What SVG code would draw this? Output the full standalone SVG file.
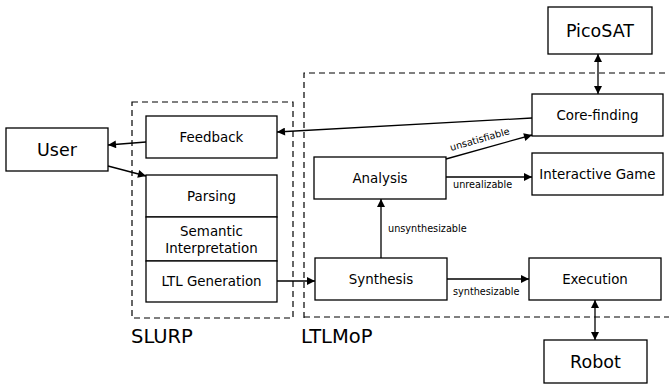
<svg xmlns="http://www.w3.org/2000/svg" width="669" height="385" viewBox="0 0 669 385">
<defs>
<marker id="ah" viewBox="0 0 10 10" refX="10" refY="5" markerWidth="10" markerHeight="8" markerUnits="userSpaceOnUse" orient="auto-start-reverse">
<path d="M0,0 L10,5 L0,10 z" fill="#000"/>
</marker>
<style>
.box{fill:#fff;stroke:#000;stroke-width:1.3}
.dash{fill:none;stroke:#000;stroke-width:1.2;stroke-dasharray:6,4}
.t{font-family:"DejaVu Sans",sans-serif;font-size:13.4px;text-anchor:middle;fill:#000}
.big{font-family:"DejaVu Sans",sans-serif;font-size:17.5px;text-anchor:middle;fill:#000}
.grp{font-family:"DejaVu Sans",sans-serif;font-size:19.5px;fill:#000}
.lbl{font-family:"DejaVu Sans",sans-serif;font-size:9.7px;fill:#000}
.c{fill:none;stroke:#000;stroke-width:1.3}
</style>
</defs>
<rect width="669" height="385" fill="#fff"/>
<g id="slurp">
<rect class="dash" x="132" y="102" width="161" height="216"/>
<text class="grp" x="131" y="343">SLURP</text>
</g>
<g id="ltlmop">
<path class="dash" d="M304,318 V73 H672 M304,317 H672"/>
<text class="grp" x="301" y="343">LTLMoP</text>
</g>
<g id="user"><rect class="box" x="6" y="128" width="102" height="43"/><text class="big" x="57" y="156">User</text></g>
<g id="feedback"><rect class="box" x="146" y="116" width="131" height="42"/><text class="t" x="211.5" y="142">Feedback</text></g>
<g id="parsing"><rect class="box" x="146" y="175" width="131" height="42"/><text class="t" x="211.5" y="201">Parsing</text></g>
<g id="semantic"><rect class="box" x="146" y="217" width="131" height="44"/><text class="t" x="211.5" y="236">Semantic</text><text class="t" x="211.5" y="253">Interpretation</text></g>
<g id="ltlgen"><rect class="box" x="146" y="261" width="131" height="41"/><text class="t" x="211.5" y="286">LTL Generation</text></g>
<g id="picosat"><rect class="box" x="548" y="7" width="104" height="47"/><text class="big" x="600" y="37">PicoSAT</text></g>
<g id="corefinding"><rect class="box" x="532" y="94" width="131" height="42"/><text class="t" x="597.5" y="120">Core-finding</text></g>
<g id="game"><rect class="box" x="532" y="153" width="131" height="42"/><text class="t" x="597.5" y="179">Interactive Game</text></g>
<g id="analysis"><rect class="box" x="314" y="157" width="132" height="42"/><text class="t" x="380" y="183">Analysis</text></g>
<g id="synthesis"><rect class="box" x="315" y="258" width="132" height="42"/><text class="t" x="381" y="284">Synthesis</text></g>
<g id="execution"><rect class="box" x="529" y="258" width="132" height="42"/><text class="t" x="595" y="284">Execution</text></g>
<g id="robot"><rect class="box" x="544" y="340" width="103" height="43"/><text class="big" x="595.5" y="368">Robot</text></g>
<g id="connectors">
<line class="c" x1="146" y1="142" x2="108" y2="145" marker-end="url(#ah)"/>
<line class="c" x1="108" y1="166" x2="146" y2="176" marker-end="url(#ah)"/>
<line class="c" x1="277" y1="281" x2="315" y2="281" marker-end="url(#ah)"/>
<line class="c" x1="532" y1="118" x2="277" y2="132" marker-end="url(#ah)"/>
<line class="c" x1="446" y1="159" x2="532" y2="135" marker-end="url(#ah)"/>
<line class="c" x1="446" y1="177" x2="532" y2="177" marker-end="url(#ah)"/>
<line class="c" x1="381" y1="258" x2="381" y2="199" marker-end="url(#ah)"/>
<line class="c" x1="447" y1="279" x2="529" y2="279" marker-end="url(#ah)"/>
<line class="c" x1="598" y1="54" x2="598" y2="94" marker-start="url(#ah)" marker-end="url(#ah)"/>
<line class="c" x1="595" y1="300" x2="595" y2="340" marker-start="url(#ah)" marker-end="url(#ah)"/>
<text class="lbl" transform="translate(451,151) rotate(-16)">unsatisfiable</text>
<text class="lbl" x="453" y="188">unrealizable</text>
<text class="lbl" x="388" y="232">unsynthesizable</text>
<text class="lbl" x="453" y="295">synthesizable</text>
</g>
</svg>
